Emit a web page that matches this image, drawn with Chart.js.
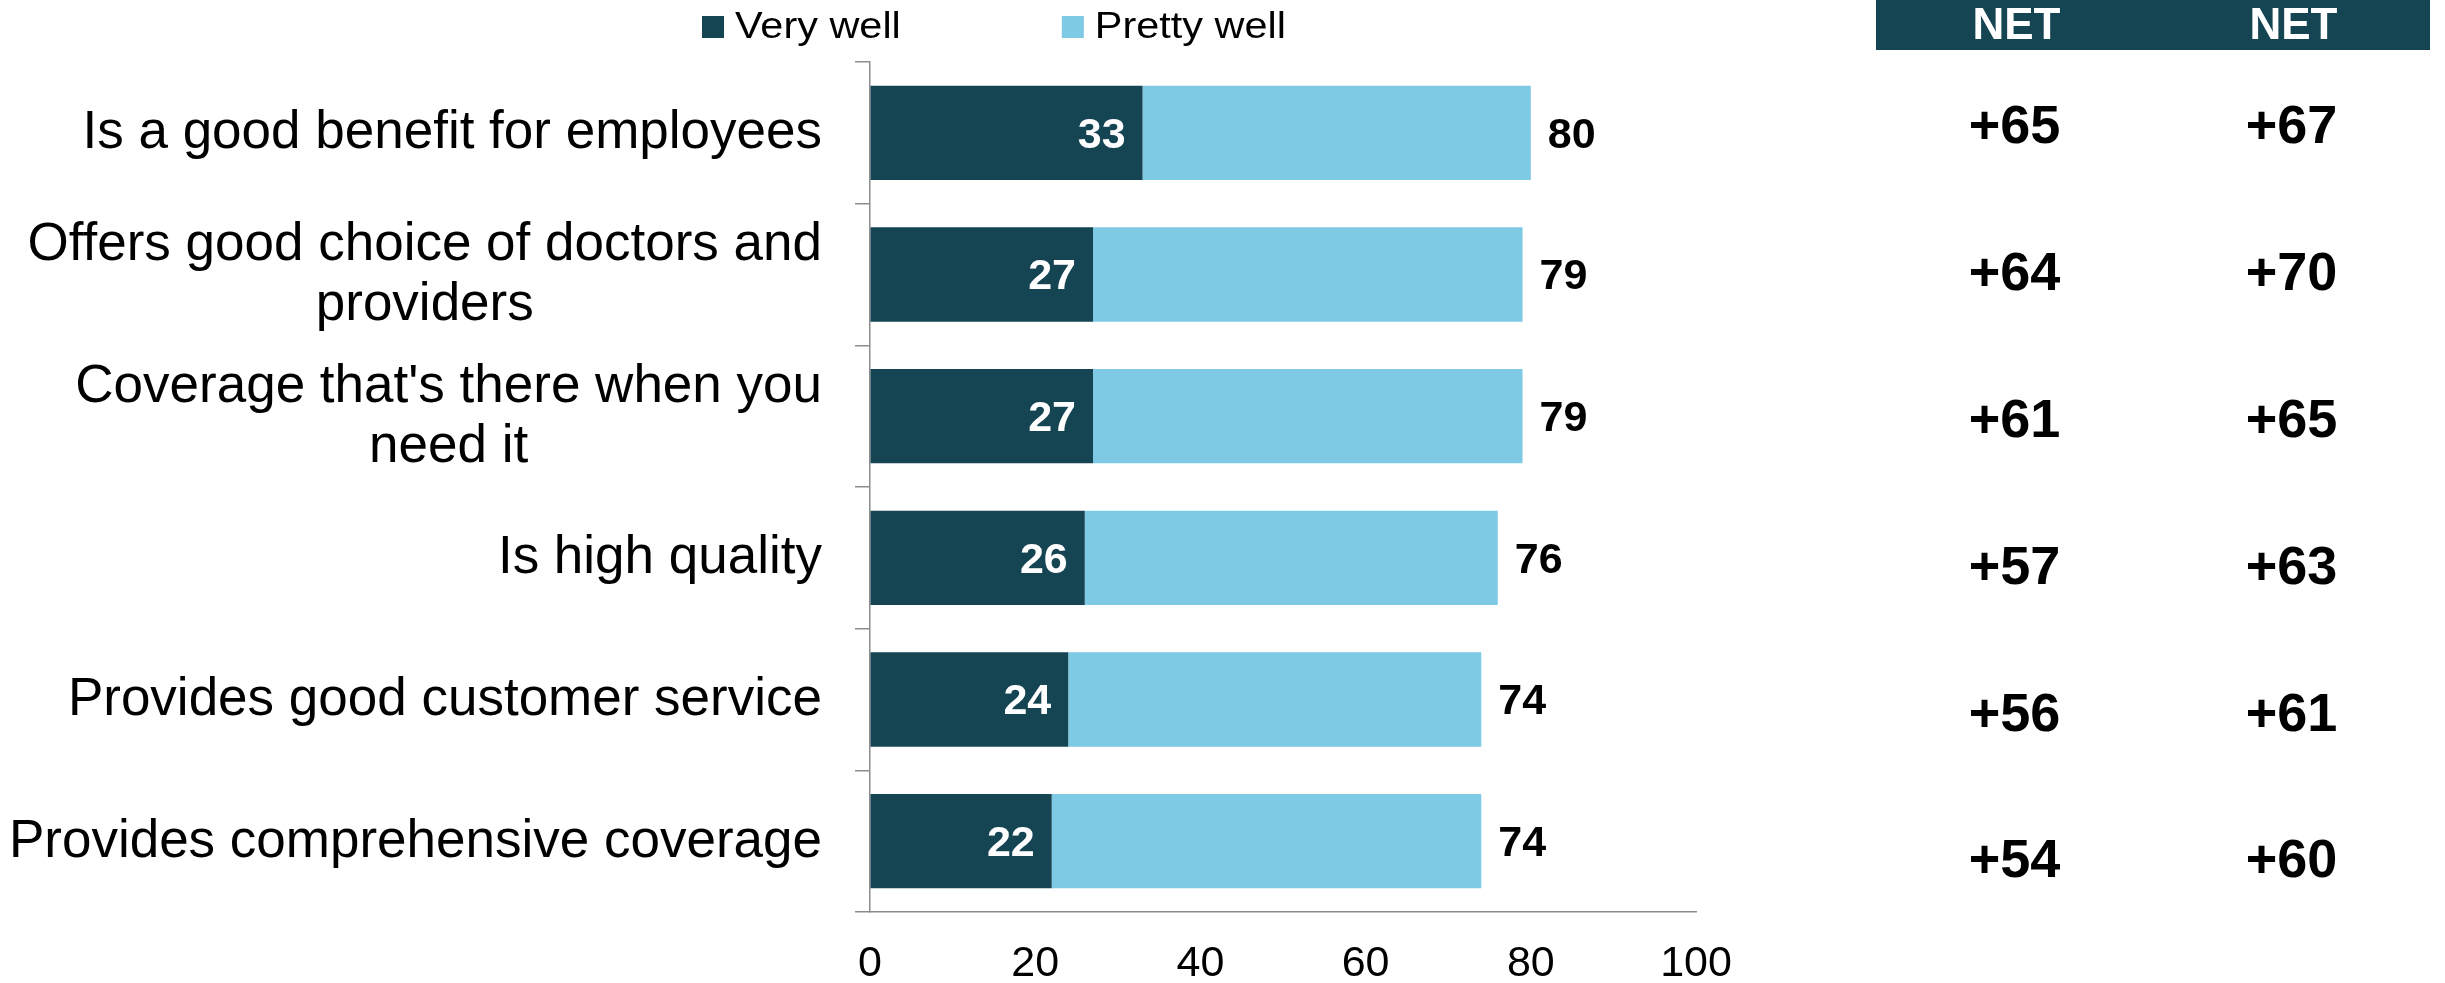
<!DOCTYPE html>
<html>
<head>
<meta charset="utf-8">
<script src="https://cdn.jsdelivr.net/npm/chart.js@4.4.1/dist/chart.umd.min.js"></script>
<style>
  html, body { margin: 0; padding: 0; background: #ffffff; }
  body { width: 2445px; height: 983px; position: relative; overflow: hidden; }
  #main { position: absolute; left: 0; top: 0; }
  #net { position: absolute; left: 1860px; top: 0; }
</style>
</head>
<body>
<canvas id="main" width="1860" height="983"></canvas>
<canvas id="net" width="585" height="983"></canvas>
<script>
// Attribute labels (multi-line entries are drawn as stacked, centred lines)
const categories = [
  ["Is a good benefit for employees"],
  ["Offers good choice of doctors and", "providers"],
  ["Coverage that's there when you", "need it"],
  ["Is high quality"],
  ["Provides good customer service"],
  ["Provides comprehensive coverage"]
];
const seriesNames = ["Very well", "Pretty well"];
const veryWell = [33, 27, 27, 26, 24, 22];
const prettyWell = [47, 52, 52, 50, 50, 52];
const xTickValues = [0, 20, 40, 60, 80, 100];

// NET score columns shown beside the bars
const netHeaders = ["NET", "NET"];
const netFirst = [65, 64, 61, 57, 56, 54];
const netSecond = [67, 70, 65, 63, 61, 60];

const DARK = '#154453';
const LIGHT = '#7ECAE4';
const AXIS = '#8c8c8c';
const FONT = '"Liberation Sans", Arial, Helvetica, sans-serif';

// Legend: coloured squares followed by series names, drawn above the plot
const swatchLegend = {
  id: 'swatchLegend',
  afterDraw(chart, args, opts) {
    const ctx = chart.ctx;
    ctx.save();
    ctx.font = `${opts.size}px ${FONT}`;
    ctx.textBaseline = 'alphabetic';
    ctx.textAlign = 'left';
    let x = opts.x;
    chart.data.datasets.forEach(ds => {
      ctx.fillStyle = ds.backgroundColor;
      ctx.fillRect(x, opts.boxTop, opts.box, opts.box);
      const tx = x + opts.box + opts.gap;
      const w = ctx.measureText(ds.label).width * opts.stretch;
      ctx.save();
      ctx.translate(tx, opts.baseline);
      ctx.scale(opts.stretch, 1);
      ctx.fillStyle = '#000';
      ctx.fillText(ds.label, 0, 0);
      ctx.restore();
      x = tx + w + opts.itemGap;
    });
    ctx.restore();
  }
};

// Category labels: block right-aligned to the axis, lines centred inside the block
const categoryLabels = {
  id: 'categoryLabels',
  afterDraw(chart, args, opts) {
    const ctx = chart.ctx;
    const yScale = chart.scales.y;
    const right = chart.chartArea.left - opts.offset;
    ctx.save();
    ctx.font = `${opts.size}px ${FONT}`;
    ctx.fillStyle = '#000';
    ctx.textAlign = 'center';
    ctx.textBaseline = 'middle';
    chart.data.labels.forEach((lines, i) => {
      const yc = yScale.getPixelForValue(i);
      const w = Math.max(...lines.map(l => ctx.measureText(l).width));
      const cx = right - w / 2;
      lines.forEach((line, j) => {
        const y = yc + (j - (lines.length - 1) / 2) * opts.lineHeight;
        ctx.fillText(line, cx, y + opts.shift);
      });
    });
    ctx.restore();
  }
};

// Value labels: segment value inside the dark bar, total beyond the bar end
const barValues = {
  id: 'barValues',
  afterDatasetsDraw(chart, args, opts) {
    const ctx = chart.ctx;
    const inner = chart.getDatasetMeta(0).data;
    const outer = chart.getDatasetMeta(1).data;
    ctx.save();
    ctx.font = `bold ${opts.size}px ${FONT}`;
    ctx.textBaseline = 'middle';
    inner.forEach((bar, i) => {
      ctx.fillStyle = '#ffffff';
      ctx.textAlign = 'right';
      ctx.fillText(String(veryWell[i]), bar.x - opts.pad, bar.y + opts.shift);
    });
    outer.forEach((bar, i) => {
      ctx.fillStyle = '#000000';
      ctx.textAlign = 'left';
      ctx.fillText(String(veryWell[i] + prettyWell[i]), bar.x + opts.pad, bar.y + opts.shift);
    });
    ctx.restore();
  }
};

new Chart(document.getElementById('main'), {
  type: 'bar',
  data: {
    labels: categories,
    datasets: [
      { label: seriesNames[0], data: veryWell, backgroundColor: DARK, borderWidth: 0 },
      { label: seriesNames[1], data: prettyWell, backgroundColor: LIGHT, borderWidth: 0 }
    ]
  },
  options: {
    indexAxis: 'y',
    responsive: false,
    animation: false,
    devicePixelRatio: 1,
    layout: { padding: { left: 0, top: 62, right: 164, bottom: 0 } },
    datasets: { bar: { categoryPercentage: 1, barPercentage: 0.666 } },
    plugins: {
      legend: { display: false },
      tooltip: { enabled: false },
      swatchLegend: { x: 702, boxTop: 16, box: 22, gap: 11, itemGap: 161, size: 37, stretch: 1.12, baseline: 37.5 },
      categoryLabels: { offset: 48, size: 53, lineHeight: 60, shift: 1 },
      barValues: { size: 43, pad: 17, shift: 3 }
    },
    scales: {
      x: {
        stacked: true,
        min: 0,
        max: 100,
        afterBuildTicks: s => { s.ticks = xTickValues.map(v => ({ value: v })); },
        afterFit: s => { s.height = 71; },
        grid: { display: true, drawOnChartArea: false, drawTicks: false },
        border: { display: true, color: AXIS, width: 1.5 },
        ticks: { padding: 26, color: '#000', font: { family: FONT, size: 43 } }
      },
      y: {
        stacked: true,
        afterFit: s => { s.width = 870; },
        grid: { display: true, offset: true, drawOnChartArea: false, drawTicks: true, tickLength: 15, color: AXIS, lineWidth: 1.5 },
        border: { display: true, color: AXIS, width: 1.5 },
        ticks: { display: false }
      }
    }
  },
  plugins: [swatchLegend, categoryLabels, barValues]
});

// NET table: header band plus one signed value per row and column
const netTable = {
  id: 'netTable',
  afterDraw(chart, args, opts) {
    const ctx = chart.ctx;
    const area = chart.chartArea;
    ctx.save();
    ctx.fillStyle = DARK;
    ctx.fillRect(area.left, 0, area.right - area.left, opts.headerHeight);
    chart.data.datasets.forEach((ds, d) => {
      const pts = chart.getDatasetMeta(d).data;
      ctx.textAlign = 'center';
      ctx.textBaseline = 'middle';
      ctx.fillStyle = '#ffffff';
      ctx.font = `bold ${opts.headerSize}px ${FONT}`;
      ctx.fillText(ds.label, pts[0].x + opts.headerShiftX, opts.headerHeight / 2 + 2);
      ctx.fillStyle = '#000000';
      ctx.font = `bold ${opts.valueSize}px ${FONT}`;
      pts.forEach((p, i) => {
        const v = ds.values[i];
        ctx.fillText((v > 0 ? '+' : '') + v, p.x, p.y + 2);
      });
    });
    ctx.restore();
  }
};

new Chart(document.getElementById('net'), {
  type: 'scatter',
  data: {
    datasets: [
      { label: netHeaders[0], values: netFirst, data: netFirst.map((v, i) => ({ x: 0, y: i })), pointRadius: 0 },
      { label: netHeaders[1], values: netSecond, data: netSecond.map((v, i) => ({ x: 1, y: i })), pointRadius: 0 }
    ]
  },
  options: {
    responsive: false,
    animation: false,
    devicePixelRatio: 1,
    layout: { padding: { left: 16, right: 15, top: 53, bottom: 49 } },
    plugins: {
      legend: { display: false },
      tooltip: { enabled: false },
      netTable: { headerHeight: 50, headerSize: 44, valueSize: 54, headerShiftX: 2 }
    },
    scales: {
      x: { type: 'linear', min: -0.5, max: 1.5, display: false },
      y: { type: 'linear', min: -0.5, max: 5.5, reverse: true, display: false }
    }
  },
  plugins: [netTable]
});
</script>
</body>
</html>
